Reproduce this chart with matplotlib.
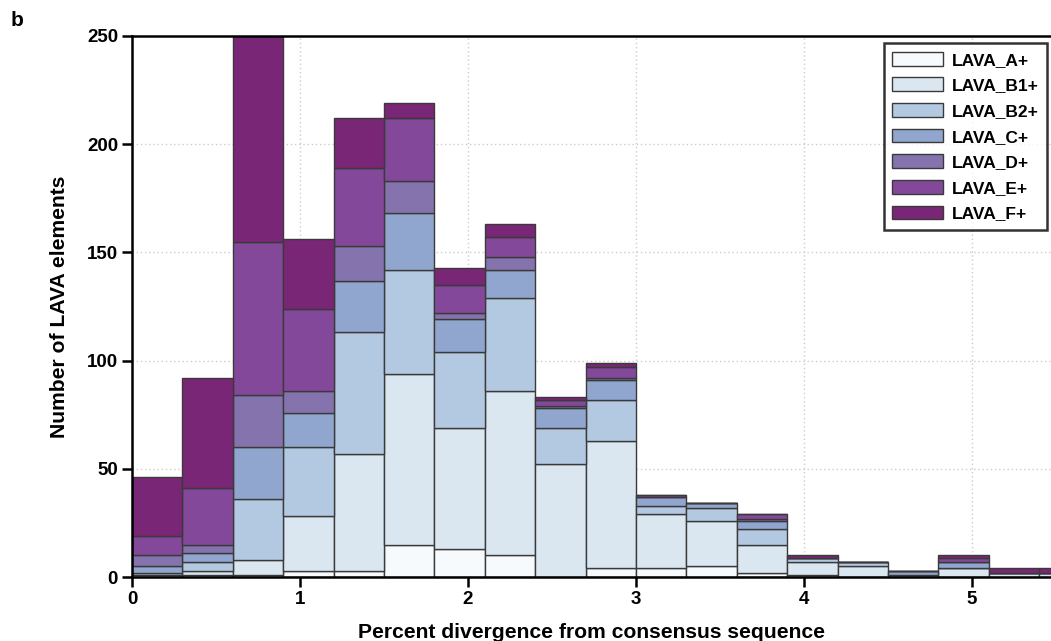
import numpy as np
import matplotlib
matplotlib.use("Agg")
import matplotlib.pyplot as plt

plt.rcParams['font.family'] = ['Liberation Sans', 'DejaVu Sans']
plt.rcParams['font.weight'] = 'bold'

# bin left edges (percent divergence), width 0.3
bin_width = 0.3
bin_left = [0.0, 0.3, 0.6, 0.9, 1.2, 1.5, 1.8, 2.1, 2.4, 2.7, 3.0, 3.3, 3.6, 3.9, 4.2, 4.5, 4.8, 5.1, 5.4]

series_names = ['LAVA_A+', 'LAVA_B1+', 'LAVA_B2+', 'LAVA_C+', 'LAVA_D+', 'LAVA_E+', 'LAVA_F+']
lava_a  = [0, 1, 1, 3, 3, 15, 13, 10, 0, 4, 4, 5, 2, 1, 0, 0, 0, 0, 0]
lava_b1 = [1, 2, 7, 25, 54, 79, 56, 76, 52, 59, 25, 21, 13, 6, 5, 1, 4, 2, 2]
lava_b2 = [1, 4, 28, 32, 56, 48, 35, 43, 17, 19, 4, 6, 7, 2, 2, 0, 0, 0, 0]
lava_c  = [3, 4, 24, 16, 24, 26, 15, 13, 9, 9, 4, 2, 4, 0, 0, 2, 3, 0, 0]
lava_d  = [5, 4, 24, 10, 16, 15, 3, 6, 1, 1, 0, 0, 1, 0, 0, 0, 0, 0, 0]
lava_e  = [9, 26, 71, 38, 36, 29, 13, 9, 3, 5, 1, 0, 2, 0, 0, 0, 2, 0, 0]
lava_f  = [27, 51, 95, 32, 23, 7, 8, 6, 1, 2, 0, 0, 0, 1, 0, 0, 1, 2, 2]

colors = ['#f6fafc', '#dae7f1', '#b3c8e1', '#91a6cf', '#8573ae', '#83489a', '#7a2676']

fig = plt.figure(figsize=(10.51, 6.41), dpi=100)
ax = fig.add_axes([132/1051, (641-577)/641, (1051-132)/1051, (577-36)/641])

series = [lava_a, lava_b1, lava_b2, lava_c, lava_d, lava_e, lava_f]
bottom = np.zeros(len(bin_left))
for name, vals, col in zip(series_names, series, colors):
    v = np.array(vals, dtype=float)
    ax.bar(bin_left, v, width=bin_width, align='edge', bottom=bottom,
           color=col, edgecolor='#3a3a3a', linewidth=1.0, label=name, zorder=2)
    bottom += v

ax.set_xlim(0, 5.47)
ax.set_ylim(0, 250)
ax.set_xticks([0, 1, 2, 3, 4, 5])
ax.set_yticks([0, 50, 100, 150, 200, 250])
ax.grid(True, linestyle=(0, (1, 2)), color='#cccccc', linewidth=1.0, zorder=0)
ax.set_axisbelow(True)

for s in ['left', 'bottom', 'top']:
    ax.spines[s].set_linewidth(1.8)
    ax.spines[s].set_color('black')
ax.spines['right'].set_visible(False)
ax.tick_params(axis='both', which='major', direction='out', length=7, width=1.8,
               labelsize=13.5, pad=3)
for lab in ax.get_xticklabels() + ax.get_yticklabels():
    lab.set_fontweight('bold')

ax.set_xlabel('Percent divergence from consensus sequence', fontsize=15.2, fontweight='bold', labelpad=11)
ax.set_ylabel('Number of LAVA elements', fontsize=15.2, fontweight='bold', labelpad=13)

leg = ax.legend(loc='upper right', bbox_to_anchor=((1047-132)/919, (577-43)/541), fontsize=12.5,
                frameon=True, fancybox=False, edgecolor='black', handlelength=2.9,
                handleheight=0.85, labelspacing=0.56, borderpad=0.5, handletextpad=0.5,
                borderaxespad=0)
leg.get_frame().set_linewidth(1.8)
for t in leg.get_texts():
    t.set_fontweight('bold')

fig.text(11/1051, 1 - 21/641, 'b', fontsize=15, fontweight='bold', va='center')

fig.savefig('out.png', dpi=100)
